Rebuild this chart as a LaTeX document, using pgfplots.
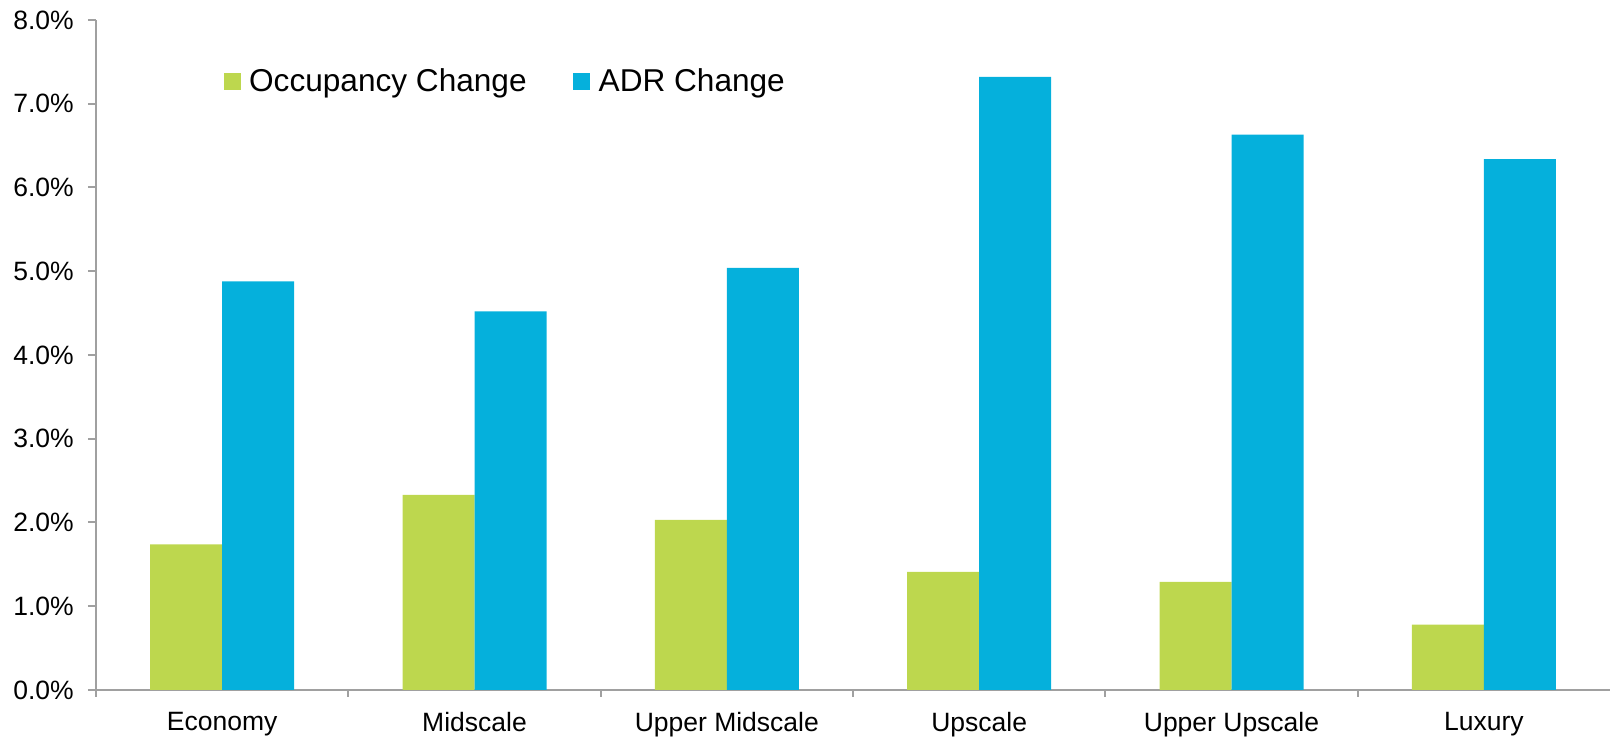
\documentclass[border=0pt]{standalone}
\usepackage{fontspec}
\setmainfont{Liberation Sans}
\usepackage{pgfplots}
\pgfplotsset{compat=1.18}
\definecolor{occgreen}{RGB}{189,215,78}
\definecolor{adrblue}{RGB}{5,176,220}
\definecolor{axisgray}{RGB}{160,160,160}
\newcommand{\ticksize}{\fontsize{13.25}{15}\selectfont}
\begin{document}
\begin{tikzpicture}
\begin{axis}[
  scale only axis, width=757pt, height=335pt,
  ybar=0pt, bar width=36pt,
  xmin=-0.5, xmax=5.5, ymin=0, ymax=8,
  axis x line=bottom, axis y line=left,
  axis line style={-, draw=axisgray, line width=1pt},
  tick align=outside,
  tick style={draw=axisgray, line width=1pt},
  major tick length=4pt, minor tick length=3.5pt,
  xtick={0,...,5},
  xticklabels={Economy,Midscale,Upper Midscale,Upscale,Upper Upscale,Luxury},
  major x tick style={draw=none},
  minor xtick={-0.5,0.5,1.5,2.5,3.5,4.5},
  ytick={0,...,8},
  yticklabels={0.0\%,1.0\%,2.0\%,3.0\%,4.0\%,5.0\%,6.0\%,7.0\%,8.0\%},
  xticklabel style={font=\ticksize, text=black, yshift=-3.5pt},
  yticklabel style={font=\ticksize, text=black, xshift=-3.6pt},
  legend style={draw=none, fill=none, inner sep=0pt, outer sep=0pt,
    at={(0.0845,0.908)}, anchor=west, legend columns=2,
    font=\fontsize{15.8}{18}\selectfont,
    /tikz/every odd column/.append style={column sep=2.3pt},
    /tikz/every even column/.append style={column sep=21.4pt}},
  legend image code/.code={\fill[#1] (0pt,-4.15pt) rectangle (8.3pt,4.15pt);},
]
\addplot[fill=occgreen, draw=none] coordinates {(0,1.74) (1,2.33) (2,2.03) (3,1.41) (4,1.29) (5,0.78)};
\addplot[fill=adrblue, draw=none] coordinates {(0,4.88) (1,4.52) (2,5.04) (3,7.32) (4,6.63) (5,6.34)};
\legend{Occupancy Change, ADR Change}
\end{axis}
\pgfresetboundingbox
\useasboundingbox (-48pt,-23.5pt) rectangle (757pt,345pt);
\end{tikzpicture}
\end{document}
